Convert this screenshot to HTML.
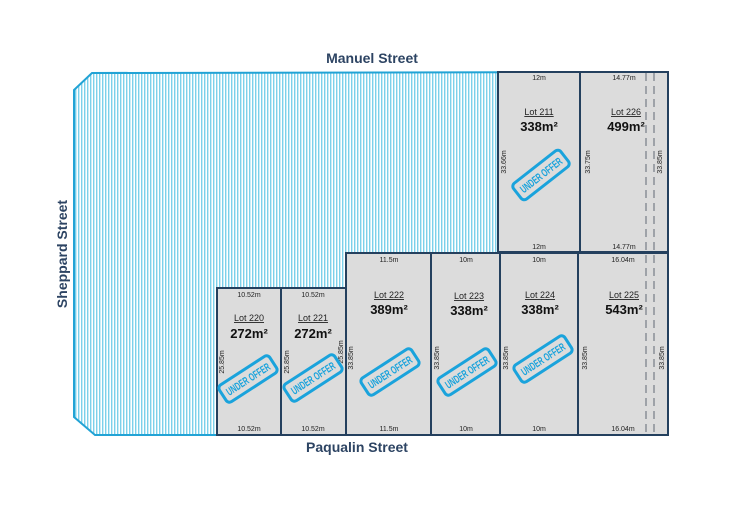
<!DOCTYPE html>
<html><head><meta charset="utf-8"><style>
html,body{margin:0;padding:0;background:#fff}
svg{display:block}
text{font-family:"Liberation Sans",sans-serif}
.st{font-weight:bold;font-size:14px;fill:#2d4463}
.dim{font-size:7px;fill:#222}
.lot{font-size:9px;fill:#222;text-decoration:underline}
.area{font-size:13px;fill:#111;font-weight:bold}
.uo{font-size:11px;font-weight:bold;fill:#1aa3dc}
</style></head><body>
<svg width="750" height="530" viewBox="0 0 750 530" xmlns="http://www.w3.org/2000/svg">
<defs>
<pattern id="h" width="3" height="10" patternUnits="userSpaceOnUse">
<rect width="3" height="10" fill="#ffffff"/>
<rect width="1.4" height="10" fill="#7cd0ea"/>
</pattern>
<g id="stamp">
<rect x="-30" y="-10" width="60" height="20" rx="4" fill="none" stroke="#1aa3dc" stroke-width="3"/>
<text class="uo" x="0" y="4" text-anchor="middle" textLength="50" lengthAdjust="spacingAndGlyphs">UNDER OFFER</text>
</g>
</defs>
<text class="st" x="372" y="63" text-anchor="middle">Manuel Street</text>
<text class="st" x="357" y="452" text-anchor="middle">Paqualin Street</text>
<text class="st" transform="translate(67,254) rotate(-90)" text-anchor="middle">Sheppard Street</text>

<polygon points="74,90 92,73 668,72 668,435 95,435 74,417" fill="url(#h)" stroke="#22a3d5" stroke-width="2"/>

<g fill="#dcdcdc" stroke="#24405e" stroke-width="2">
<rect x="498" y="72" width="82" height="180"/>
<rect x="580" y="72" width="88" height="180"/>
<rect x="217" y="288" width="64" height="147"/>
<rect x="281" y="288" width="65" height="147"/>
<rect x="346" y="253" width="85" height="182"/>
<rect x="431" y="253" width="69" height="182"/>
<rect x="500" y="253" width="78" height="182"/>
<rect x="578" y="253" width="90" height="182"/>
</g>
<g stroke="#8a8f96" stroke-width="1.5" stroke-dasharray="8,5">
<line x1="646" y1="73" x2="646" y2="435"/>
<line x1="654" y1="73" x2="654" y2="435"/>
</g>

<g class="dim" text-anchor="middle">
<text x="539" y="80">12m</text><text x="539" y="249">12m</text>
<text x="624" y="80">14.77m</text><text x="624" y="249">14.77m</text>
<text x="249" y="297">10.52m</text><text x="249" y="431">10.52m</text>
<text x="313" y="297">10.52m</text><text x="313" y="431">10.52m</text>
<text x="389" y="262">11.5m</text><text x="389" y="431">11.5m</text>
<text x="466" y="262">10m</text><text x="466" y="431">10m</text>
<text x="539" y="262">10m</text><text x="539" y="431">10m</text>
<text x="623" y="262">16.04m</text><text x="623" y="431">16.04m</text>
<text transform="translate(506,162) rotate(-90)">33.66m</text>
<text transform="translate(590,162) rotate(-90)">33.75m</text>
<text transform="translate(662,162) rotate(-90)">33.85m</text>
<text transform="translate(224,362) rotate(-90)">25.85m</text>
<text transform="translate(289,362) rotate(-90)">25.85m</text>
<text transform="translate(343,352) rotate(-90)">25.85m</text>
<text transform="translate(353,358) rotate(-90)">33.85m</text>
<text transform="translate(439,358) rotate(-90)">33.85m</text>
<text transform="translate(508,358) rotate(-90)">33.85m</text>
<text transform="translate(587,358) rotate(-90)">33.85m</text>
<text transform="translate(664,358) rotate(-90)">33.85m</text>
</g>

<g text-anchor="middle">
<text class="lot" x="539" y="115">Lot 211</text><text class="area" x="539" y="131">338m²</text>
<text class="lot" x="626" y="115">Lot 226</text><text class="area" x="626" y="131">499m²</text>
<text class="lot" x="249" y="321">Lot 220</text><text class="area" x="249" y="338">272m²</text>
<text class="lot" x="313" y="321">Lot 221</text><text class="area" x="313" y="338">272m²</text>
<text class="lot" x="389" y="298">Lot 222</text><text class="area" x="389" y="314">389m²</text>
<text class="lot" x="469" y="299">Lot 223</text><text class="area" x="469" y="315">338m²</text>
<text class="lot" x="540" y="298">Lot 224</text><text class="area" x="540" y="314">338m²</text>
<text class="lot" x="624" y="298">Lot 225</text><text class="area" x="624" y="314">543m²</text>
</g>

<use href="#stamp" transform="translate(541,175) rotate(-38)"/>
<use href="#stamp" transform="translate(248,379) rotate(-33)"/>
<use href="#stamp" transform="translate(313,378) rotate(-33)"/>
<use href="#stamp" transform="translate(390,372) rotate(-33)"/>
<use href="#stamp" transform="translate(467,372) rotate(-33)"/>
<use href="#stamp" transform="translate(543,359) rotate(-33)"/>
</svg>
</body></html>
